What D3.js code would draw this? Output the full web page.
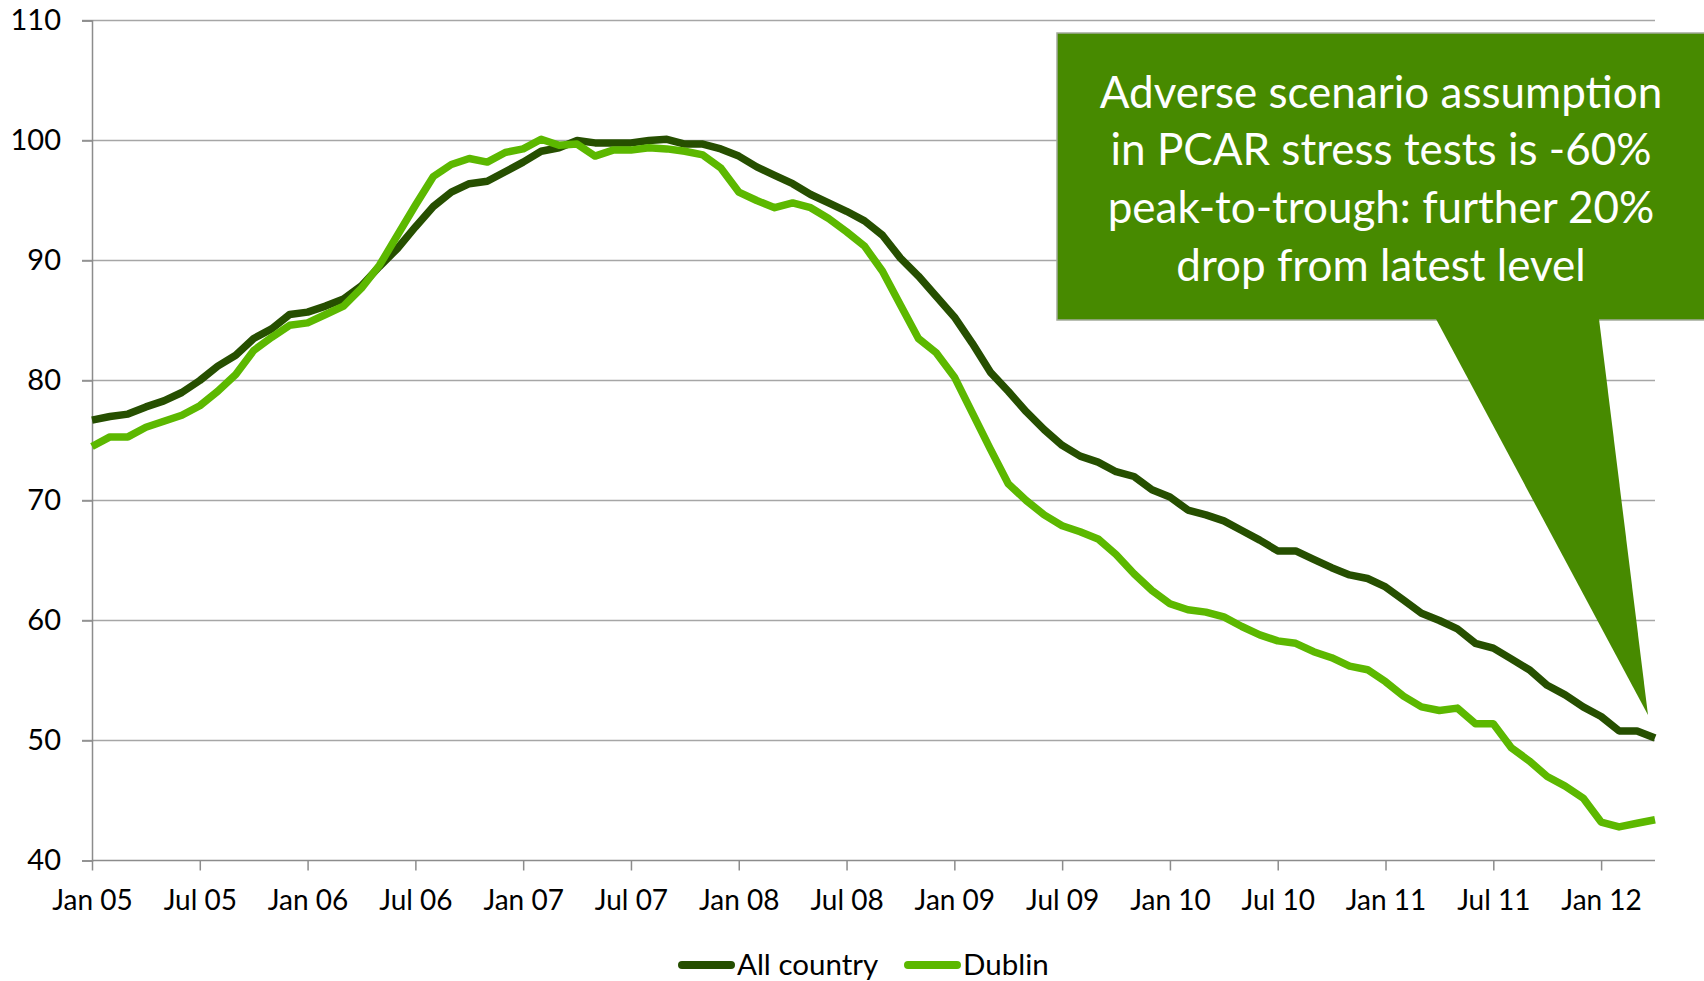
<!DOCTYPE html>
<html>
<head>
<meta charset="utf-8">
<title>Irish house prices</title>
<script src="https://cdn.jsdelivr.net/npm/d3@7"></script>
<style>
body { margin: 0; background: #fff; }
text { font-family: Lato, "Noto Sans", sans-serif; fill: #000; }
.grid line { stroke: #a6a6a6; stroke-width: 1.5; }
.axis path, .axis line { stroke: #8c8c8c; stroke-width: 1.5; }
</style>
</head>
<body>
<div id="chart"></div>
<script>
// index, peak = 100 (monthly, Jan 05 .. Apr 12)
var allCountry = [76.7, 77.0, 77.2, 77.8, 78.3, 79.0, 80.0, 81.2, 82.1, 83.5, 84.3, 85.5,
                  85.7, 86.2, 86.8, 87.9, 89.5, 91.0, 92.8, 94.5, 95.7, 96.4, 96.6, 97.4,
                  98.2, 99.1, 99.4, 100.0, 99.8, 99.8, 99.8, 100.0, 100.1, 99.7, 99.7, 99.3,
                  98.7, 97.8, 97.1, 96.4, 95.5, 94.8, 94.1, 93.3, 92.1, 90.2, 88.7, 87.0,
                  85.3, 83.1, 80.7, 79.1, 77.4, 75.9, 74.6, 73.7, 73.2, 72.4, 72.0, 70.9,
                  70.3, 69.2, 68.8, 68.3, 67.5, 66.7, 65.8, 65.8, 65.1, 64.4, 63.8, 63.5,
                  62.8, 61.7, 60.6, 60.0, 59.3, 58.1, 57.7, 56.8, 55.9, 54.6, 53.8, 52.8,
                  52.0, 50.8, 50.8, 50.2];
var dublin = [74.5, 75.3, 75.3, 76.1, 76.6, 77.1, 77.9, 79.1, 80.5, 82.5, 83.6, 84.6,
              84.8, 85.5, 86.2, 87.7, 89.6, 92.1, 94.6, 97.0, 98.0, 98.5, 98.2, 99.0,
              99.3, 100.1, 99.6, 99.7, 98.7, 99.2, 99.2, 99.4, 99.3, 99.1, 98.8, 97.7,
              95.7, 95.0, 94.4, 94.8, 94.4, 93.5, 92.4, 91.2, 89.1, 86.3, 83.5, 82.3,
              80.3, 77.3, 74.3, 71.4, 70.0, 68.8, 67.9, 67.4, 66.8, 65.5, 63.9, 62.5,
              61.4, 60.9, 60.7, 60.3, 59.5, 58.8, 58.3, 58.1, 57.4, 56.9, 56.2, 55.9,
              54.9, 53.7, 52.8, 52.5, 52.7, 51.4, 51.4, 49.4, 48.3, 47.0, 46.2, 45.2,
              43.2, 42.8, 43.1, 43.4];
var seriesNames = ["All country", "Dublin"];
var seriesColors = ["#264f00", "#5cb800"];
var yTicks = [40, 50, 60, 70, 80, 90, 100, 110];
var xTickLabels = ["Jan 05", "Jul 05", "Jan 06", "Jul 06", "Jan 07", "Jul 07", "Jan 08", "Jul 08",
                   "Jan 09", "Jul 09", "Jan 10", "Jul 10", "Jan 11", "Jul 11", "Jan 12"];
var noteLines = ["Adverse scenario assumption", "in PCAR stress tests is -60%",
                 "peak-to-trough: further 20%", "drop from latest level"];

var W = 1704, H = 981,
    plotL = 92, plotR = 1655, plotT = 20.5, plotB = 860.5;

var fmt = d3.timeFormat("%b %y");
var months = d3.timeMonth.range(new Date(2005, 0, 1), new Date(2012, 4, 1)).map(fmt);

var x = d3.scalePoint().domain(months).range([plotL, plotR]);
var y = d3.scaleLinear().domain([40, 110]).range([plotB, plotT]);

var svg = d3.select("#chart").append("svg")
    .attr("width", W).attr("height", H);

// gridlines
svg.append("g").attr("class", "grid")
  .selectAll("line").data(yTicks.slice(1)).enter().append("line")
    .attr("x1", plotL - 10).attr("x2", plotR)
    .attr("y1", function(d) { return y(d); })
    .attr("y2", function(d) { return y(d); });

var yAxis = svg.append("g").attr("class", "axis")
    .attr("transform", "translate(" + plotL + ",0)")
    .call(d3.axisLeft(y).tickValues(yTicks).tickSize(10).tickPadding(21));
yAxis.selectAll("text").style("font-size", "29px");

var xAxis = svg.append("g").attr("class", "axis")
    .attr("transform", "translate(0," + plotB + ")")
    .call(d3.axisBottom(x).tickValues(xTickLabels).tickSize(10).tickPadding(20));
xAxis.selectAll("text").style("font-size", "28px");
xAxis.select(".domain").attr("d", "M" + plotL + ",0H" + plotR);

// lines
var line = d3.line()
    .x(function(d, i) { return x(months[i]); })
    .y(function(d) { return y(d); });

[allCountry, dublin].forEach(function(s, k) {
  svg.append("path")
    .datum(s)
    .attr("d", line)
    .attr("fill", "none")
    .attr("stroke", seriesColors[k])
    .attr("stroke-width", 7.5)
    .attr("stroke-linejoin", "round");
});

// callout
var callout = svg.append("g");
callout.append("rect")
    .attr("x", 1057).attr("y", 33).attr("width", 660).attr("height", 287)
    .attr("fill", "#478a00").attr("stroke", "#a3ab9b").attr("stroke-width", 1.5);
callout.append("path")
    .attr("d", "M1436,319L1599,319L1648,715Z")
    .attr("fill", "#478a00");
callout.selectAll("text").data(noteLines).enter().append("text")
    .attr("x", 1381)
    .attr("y", function(d, i) { return 107.5 + i * 57.7; })
    .attr("text-anchor", "middle")
    .style("font-size", "44px")
    .style("fill", "#fff")
    .text(function(d) { return d; });

// legend
var legX = [678, 904];
var legend = svg.append("g").selectAll("g").data(seriesNames).enter().append("g");
legend.append("line")
    .attr("x1", function(d, i) { return legX[i] + 4; })
    .attr("x2", function(d, i) { return legX[i] + 53; })
    .attr("y1", 965).attr("y2", 965)
    .attr("stroke", function(d, i) { return seriesColors[i]; })
    .attr("stroke-width", 8)
    .attr("stroke-linecap", "round");
legend.append("text")
    .attr("x", function(d, i) { return legX[i] + 59; })
    .attr("y", 975)
    .style("font-size", "29.5px")
    .text(function(d) { return d; });
</script>
</body>
</html>
